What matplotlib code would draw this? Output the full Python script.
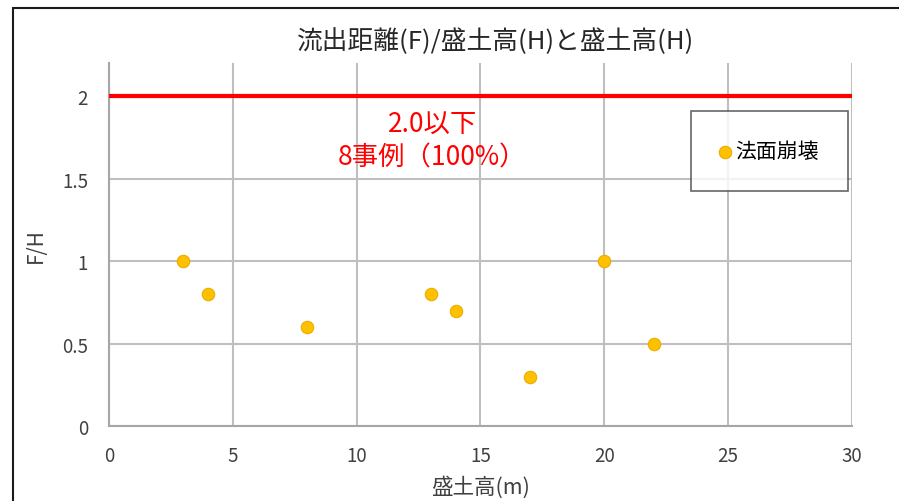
import matplotlib
matplotlib.use("Agg")
import matplotlib.pyplot as plt
from matplotlib.patches import Rectangle

plt.rcParams['font.family'] = ['Noto Sans CJK JP', 'DejaVu Sans']

# 盛土高(m) と 流出距離/盛土高
height_m = [3, 4, 8, 13, 14, 17, 20, 22]
f_over_h = [1.0, 0.8, 0.6, 0.8, 0.7, 0.3, 1.0, 0.5]
x_ticks = [0, 5, 10, 15, 20, 25, 30]
y_ticks = [0, 0.5, 1, 1.5, 2]
y_tick_labels = ['0', '0.5', '1', '1.5', '2']
limit_value = 2.0
note = "2.0以下\n8事例（100%）"

fig = plt.figure(figsize=(8.99, 5.02), dpi=100)
ax = fig.add_axes([0.1212, 0.1494, 0.8265, 0.7231])

# outer frame of the chart
fig.patches.append(Rectangle((13 / 899, -0.1), 1.2, 1 - 9 / 502 + 0.1,
                             transform=fig.transFigure, fill=False,
                             edgecolor='#1a1a1a', linewidth=1.5))

ax.scatter(height_m, f_over_h, s=80, color='#FFC000', edgecolors='#E8AE00',
           linewidths=0.8, zorder=4, label='法面崩壊')
ax.plot([0, 30], [limit_value, limit_value], color='#FF0000', linewidth=3, zorder=3)
ax.text(13.05, 1.73, note, color='#FF0000', fontsize=19, ha='center', va='center',
        linespacing=1.25)

ax.set_xlim(0, 30)
ax.set_ylim(0, 2.2)
ax.set_xticks(x_ticks)
ax.set_yticks(y_ticks)
ax.set_yticklabels(y_tick_labels)
ax.grid(True, color='#BFBFBF', linewidth=1.5, zorder=0)
ax.set_axisbelow(True)
ax.tick_params(length=0, labelsize=13.5, colors='#404040', pad=14)
ax.tick_params(axis='y', pad=15)
for side in ['top', 'right']:
    ax.spines[side].set_visible(False)
for side in ['left', 'bottom']:
    ax.spines[side].set_color('#A6A6A6')
    ax.spines[side].set_linewidth(1.5)

ax.set_title('流出距離(F)/盛土高(H)と盛土高(H)', fontsize=18.5, color='#262626',
             pad=11, x=0.52)
ax.set_xlabel('盛土高(m)', fontsize=15.5, color='#404040', labelpad=6)
ax.set_ylabel('F/H', fontsize=15, color='#404040', labelpad=11)

leg = ax.legend(loc='upper right', bbox_to_anchor=(0.9946, 0.868), fontsize=15,
                frameon=True, fancybox=False, borderpad=1.4, handlelength=0.5,
                handletextpad=0.25, borderaxespad=0, markerscale=1.0)
leg.get_frame().set_edgecolor('#404040')
leg.get_frame().set_linewidth(1.2)

fig.savefig('out.png', dpi=100)
